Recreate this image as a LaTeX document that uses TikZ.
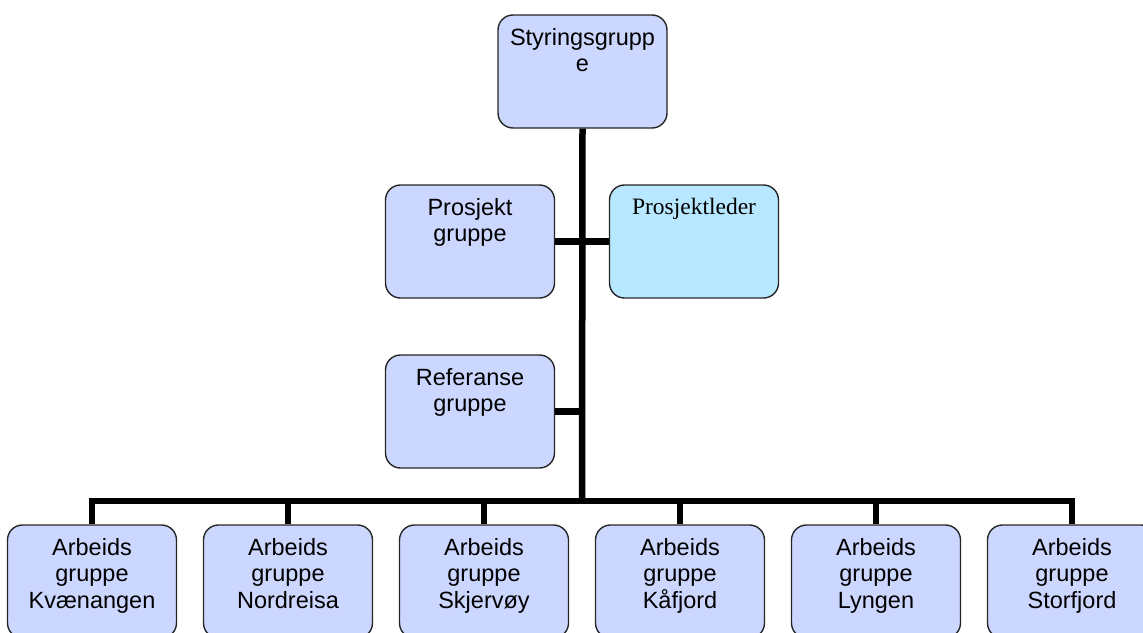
\documentclass[tikz,border=0pt]{standalone}
\usepackage{fontspec}
\setmainfont{Liberation Sans}
\newfontfamily\timesfont{Liberation Serif}
\usepackage{tikz}
\usetikzlibrary{calc, positioning}

\definecolor{orgblue}{RGB}{204,215,255}
\definecolor{orgcyan}{RGB}{184,232,255}

% text sits at the top of each box
\newcommand{\boxtext}[1]{\parbox[c][113pt][t]{169pt}{\centering\vspace*{13pt}#1}}

\begin{document}
\begin{tikzpicture}[x=1pt, y=-1pt,
    orgbox/.style={draw=black!85, line width=1.4pt, fill=orgblue, rounded corners=15pt,
      inner sep=0pt, font=\fontsize{23.5}{26.5}\selectfont},
    leaderbox/.style={orgbox, fill=orgcyan},
    wire/.style={line width=6.5pt}]
  \clip (0,0) rectangle (1143,632);
  \useasboundingbox (0,0) rectangle (1143,632);
  \node [orgbox] (styr) at (582.5,71.5) {\boxtext{Styringsgrupp\\e}};
  \node [orgbox] (prosj) at (470,241.5) {\boxtext{Prosjekt\\gruppe}};
  \node [leaderbox] (leder) at (694,241.5) {\boxtext{\timesfont Prosjektleder}};
  \node [orgbox] (ref) at (470,411.5) {\boxtext{Referanse\\gruppe}};
  \node [orgbox] (ab1) at (92,581.5) {\boxtext{Arbeids\\gruppe\\Kvænangen}};
  \node [orgbox] (ab2) at (288,581.5) {\boxtext{Arbeids\\gruppe\\Nordreisa}};
  \node [orgbox] (ab3) at (484,581.5) {\boxtext{Arbeids\\gruppe\\Skjervøy}};
  \node [orgbox] (ab4) at (680,581.5) {\boxtext{Arbeids\\gruppe\\Kåfjord}};
  \node [orgbox] (ab5) at (876,581.5) {\boxtext{Arbeids\\gruppe\\Lyngen}};
  \node [orgbox] (ab6) at (1072,581.5) {\boxtext{Arbeids\\gruppe\\Storfjord}};
  \coordinate (bus) at (582,501);
  \draw [wire] (styr.south) -- (bus);
  \draw [wire] (prosj.east) -- (leder.west);
  \draw [wire] (ref.east) -- (ref.east -| bus);
  \draw [wire] (ab1.north) -- (ab1.north |- bus) -- (ab6.north |- bus) -- (ab6.north);
  \foreach \i in {2,...,5}
    \draw [wire] (ab\i.north) -- (ab\i.north |- bus);
\end{tikzpicture}
\end{document}
